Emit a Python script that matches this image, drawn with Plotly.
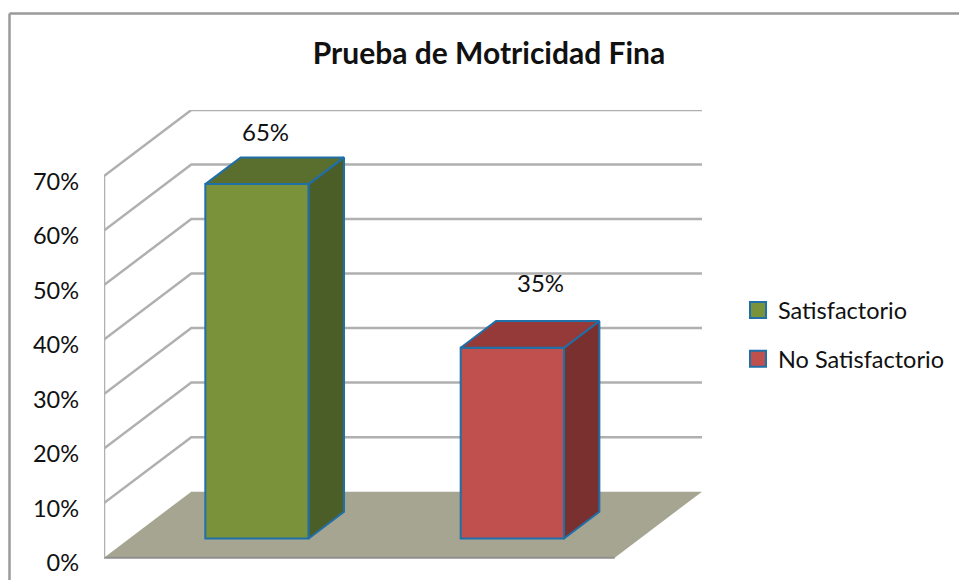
import plotly.graph_objects as go

series_names = ["Satisfactorio", "No Satisfactorio"]
series_values = [65, 35]
series_positions = [0.25, 0.75]
tick_values = [0, 10, 20, 30, 40, 50, 60, 70]
tick_labels = ["0%", "10%", "20%", "30%", "40%", "50%", "60%", "70%"]
title_text = "Prueba de Motricidad Fina"

front_colors = ["#7a933a", "#c0504d"]
top_colors = ["#5a6e2e", "#953a39"]
side_colors = ["#4c5e27", "#7b3030"]
edge = "#1f6fa8"
grid = "#b0b0b0"
floor = "#a6a592"
label_shift = [(-27, 26), (-7, 38)]

FONT = "Lato, Carlito, Calibri, sans-serif"
W, H = 959, 580
L, R = 104, 702           # plot area px
DEPTH_X = 87 / 509        # oblique shift in x units
DEPTH_Y = 12.1            # oblique shift in percent units
XMAX = 1 + DEPTH_X
YMIN, YMAX = -3, 82.1
PX = 5.457
TOP = 109.5
BOT = H - (TOP + (YMAX - YMIN) * PX)
BAR_W = 103 / 509
D0, D1 = 0.29, 0.695      # bar depth


def pr(x, y, d):
    return x + d * DEPTH_X, y + d * DEPTH_Y


def poly(pts, fill, line=None, lw=0):
    xs, ys = zip(*pts)
    return go.Scatter(x=list(xs) + [xs[0]], y=list(ys) + [ys[0]], mode="lines", fill="toself",
                      fillcolor=fill, line=dict(color=line or fill, width=lw if line else 0),
                      hoverinfo="skip", showlegend=False)


def path(pts, close=False):
    s = "M" + " L".join(f"{x:.5f},{y:.4f}" for x, y in pts)
    return s + (" Z" if close else "")


fig = go.Figure()

# floor, walls and gridlines sit below the bars
fig.add_shape(type="path", xref="x", yref="y", layer="below",
              path=path([pr(0, 0, 0), pr(0, 0, 1), pr(1, 0, 1), pr(1, 0, 0)], True),
              fillcolor=floor, line=dict(width=0))
fig.add_shape(type="line", xref="x", yref="y", layer="below", x0=0, x1=1, y0=0, y1=0,
              line=dict(color="#8f8f8f", width=2))
for v in tick_values[1:]:
    fig.add_shape(type="path", xref="x", yref="y", layer="below",
                  path=path([pr(0, v, 0), pr(0, v, 1), pr(1, v, 1)]),
                  line=dict(color=grid, width=2.5))
fig.add_shape(type="line", xref="x", yref="y", layer="below", x0=0, x1=0, y0=0, y1=tick_values[-1],
              line=dict(color=grid, width=2.5))

# bars: front face as a real bar, side and top faces as polygons
for i, (name, val, pos) in enumerate(zip(series_names, series_values, series_positions)):
    x0, x1 = pos - BAR_W / 2, pos + BAR_W / 2
    bx, by = pr(pos, 0, D0)
    fig.add_trace(go.Bar(x=[bx], y=[val], base=by, width=BAR_W, marker=dict(color=front_colors[i],
                         line=dict(color=edge, width=2)), showlegend=False, hoverinfo="skip"))
    fig.add_trace(poly([pr(x1, 0, D0), pr(x1, 0, D1), pr(x1, val, D1), pr(x1, val, D0)],
                       side_colors[i], edge, 2))
    fig.add_trace(poly([pr(x0, val, D0), pr(x0, val, D1), pr(x1, val, D1), pr(x1, val, D0)],
                       top_colors[i], edge, 2))
    fig.add_trace(go.Scatter(x=[None], y=[None], mode="markers", name=name, legendgroup=name,
                             marker=dict(symbol="square", size=16, color=front_colors[i],
                                         line=dict(color=edge, width=2))))
    ax, ay = pr(pos, val, D1)
    fig.add_annotation(x=ax, y=ay, text=f"{val}%", showarrow=False, xanchor="center", yanchor="middle",
                       xshift=label_shift[i][0], yshift=label_shift[i][1],
                       font=dict(family=FONT, size=24, color="#111111"))

# hidden carrier so the tick labels sit a little below the wall lines
fig.add_trace(go.Scatter(x=[None], y=[None], yaxis="y2", showlegend=False, hoverinfo="skip"))

# chart border (only top and left are visible in the picture)
to_x = lambda px: (px - L) / (R - L)
for x0, x1, y0, y1 in [(9.5, W, 13, 13), (9.5, 9.5, 13, H)]:
    fig.add_shape(type="line", xref="paper", yref="paper",
                  x0=to_x(x0), x1=to_x(x1),
                  y0=1 - (y0 - TOP) / (H - TOP - BOT), y1=1 - (y1 - TOP) / (H - TOP - BOT),
                  line=dict(color="#9a9a9a", width=2.5))

fig.update_layout(
    width=W, height=H, autosize=False, barmode="overlay",
    paper_bgcolor="white", plot_bgcolor="rgba(0,0,0,0)",
    margin=dict(l=L, r=W - R, t=TOP, b=BOT, autoexpand=False),
    font=dict(family=FONT, color="#111111"),
    title=dict(text=f"<b>{title_text}</b>", x=489 / W, xanchor="center", y=1 - 53 / H, yanchor="middle",
               font=dict(family=FONT, size=30, color="#111111")),
    xaxis=dict(range=[0, XMAX], visible=False),
    yaxis=dict(range=[YMIN, YMAX], visible=False),
    yaxis2=dict(overlaying="y", side="left", anchor="x", range=[YMIN + 1, YMAX + 1],
                tickvals=tick_values, ticktext=tick_labels, showgrid=False, zeroline=False,
                showline=False, ticks="", ticklabelstandoff=24, tickfont=dict(family=FONT, size=23.5, color="#111111")),
    legend=dict(x=to_x(738), xanchor="left", y=1 - (288 - TOP) / (H - TOP - BOT), yanchor="top",
                font=dict(family=FONT, size=23.5, color="#111111"), tracegroupgap=15,
                bgcolor="rgba(0,0,0,0)", itemwidth=30),
)

fig.write_html("out.html", config={"displayModeBar": False},
               post_script="document.body.style.margin='0';document.body.style.overflow='hidden';")
